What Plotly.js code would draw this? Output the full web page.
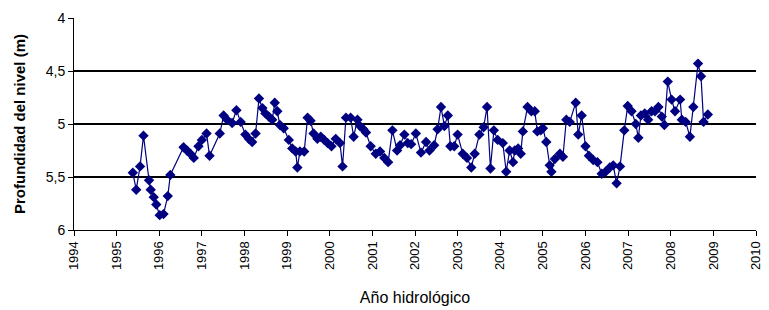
<!DOCTYPE html>
<html>
<head>
<meta charset="utf-8">
<script src="https://cdn.plot.ly/plotly-3.0.1.min.js"></script>
<style>html,body{margin:0;padding:0;background:#fff;}#chart{width:769px;height:310px;}</style>
</head>
<body>
<div id="chart"></div>
<script>
// Hydrological year (decimal) and water-level depth (m)
const years = [
1995.38,1995.46,1995.55,1995.63,1995.76,1995.80,1995.87,1995.93,1996.01,1996.10,
1996.20,1996.26,1996.57,1996.65,1996.73,1996.81,1996.92,1997.00,1997.11,1997.18,
1997.42,1997.51,1997.59,1997.71,1997.81,1997.91,1998.02,1998.10,1998.18,1998.26,
1998.34,1998.42,1998.49,1998.57,1998.65,1998.71,1998.77,1998.83,1998.92,1999.04,
1999.12,1999.20,1999.24,1999.30,1999.40,1999.48,1999.55,1999.62,1999.71,1999.79,
1999.87,1999.95,2000.04,2000.14,2000.24,2000.30,2000.38,2000.49,2000.56,2000.65,
2000.71,2000.79,2000.85,2000.96,2001.08,2001.18,2001.28,2001.37,2001.47,2001.58,
2001.65,2001.75,2001.83,2001.91,2002.02,2002.14,2002.26,2002.34,2002.45,2002.53,
2002.61,2002.69,2002.77,2002.83,2002.92,2003.00,2003.12,2003.22,2003.32,2003.40,
2003.51,2003.61,2003.69,2003.77,2003.85,2003.94,2004.06,2004.14,2004.22,2004.30,
2004.34,2004.42,2004.48,2004.53,2004.64,2004.73,2004.81,2004.87,2004.95,2005.00,
2005.08,2005.16,2005.20,2005.28,2005.40,2005.47,2005.55,2005.63,2005.77,2005.83,
2005.91,2006.00,2006.08,2006.18,2006.28,2006.38,2006.47,2006.57,2006.65,2006.73,
2006.81,2006.91,2006.99,2007.08,2007.18,2007.24,2007.30,2007.39,2007.47,2007.55,
2007.63,2007.71,2007.79,2007.85,2007.93,2008.02,2008.10,2008.22,2008.26,2008.35,
2008.45,2008.53,2008.64,2008.71,2008.77,2008.87
];
const depth = [
5.46,5.62,5.40,5.11,5.53,5.62,5.69,5.76,5.86,5.85,
5.68,5.48,5.22,5.25,5.28,5.32,5.21,5.15,5.09,5.30,
5.09,4.92,4.96,4.99,4.87,4.98,5.10,5.14,5.17,5.09,
4.76,4.85,4.90,4.93,4.96,4.80,4.88,5.01,5.04,5.15,
5.23,5.26,5.41,5.26,5.26,4.94,4.97,5.09,5.14,5.12,
5.15,5.18,5.21,5.14,5.18,5.40,4.94,4.94,5.12,4.96,
5.02,5.05,5.08,5.21,5.28,5.26,5.32,5.36,5.06,5.25,
5.20,5.10,5.18,5.19,5.09,5.27,5.17,5.25,5.20,5.05,
4.84,5.02,4.92,5.21,5.21,5.10,5.28,5.32,5.41,5.28,
5.10,5.03,4.84,5.42,5.06,5.15,5.18,5.45,5.25,5.36,
5.25,5.23,5.28,5.07,4.84,4.88,4.88,5.07,5.06,5.04,
5.17,5.39,5.45,5.33,5.28,5.31,4.96,4.98,4.80,5.10,
4.92,5.21,5.30,5.34,5.36,5.47,5.45,5.41,5.39,5.56,
5.40,5.06,4.83,4.88,5.00,5.13,4.92,4.90,4.96,4.88,
4.88,4.84,4.93,5.01,4.60,4.77,4.88,4.77,4.96,4.98,
5.12,4.84,4.43,4.55,4.98,4.91
];
const xTicks = [1994,1995,1996,1997,1998,1999,2000,2001,2002,2003,2004,2005,2006,2007,2008,2009,2010];
const yTicks = [4,4.5,5,5.5,6];

const trace = {
  x: years, y: depth, type: 'scatter', mode: 'lines+markers',
  line: {color: '#000080', width: 1.2},
  marker: {symbol: 'diamond', size: 8, color: '#000080'},
  hoverinfo: 'x+y'
};

const layout = {
  width: 769, height: 310,
  margin: {l: 74, r: 13, t: 18, b: 80},
  paper_bgcolor: '#fff', plot_bgcolor: '#fff',
  separators: ',.',
  showlegend: false,
  font: {family: 'Liberation Sans, Arial, sans-serif', color: '#000'},
  xaxis: {
    range: [1994, 2010], tickvals: xTicks, ticktext: xTicks.map(String),
    tickangle: -90, tickfont: {size: 13},
    ticks: 'outside', ticklen: 5, tickcolor: '#000',
    showline: true, linecolor: '#000', linewidth: 1,
    showgrid: false, zeroline: false,
    title: {text: 'Año hidrológico', font: {size: 16}, standoff: 22}
  },
  yaxis: {
    range: [6, 4], tickvals: yTicks, ticktext: ['4','4,5','5','5,5','6'],
    tickfont: {size: 14},
    ticks: 'outside', ticklen: 5, tickcolor: '#000',
    showline: true, linecolor: '#000', linewidth: 1,
    showgrid: true, gridcolor: '#000', gridwidth: 1.5,
    zeroline: false,
    title: {text: '<b>Profundidad del nivel (m)</b>', font: {size: 15}, standoff: 16}
  }
};

Plotly.newPlot('chart', [trace], layout, {displayModeBar: false, staticPlot: true});
</script>
</body>
</html>
